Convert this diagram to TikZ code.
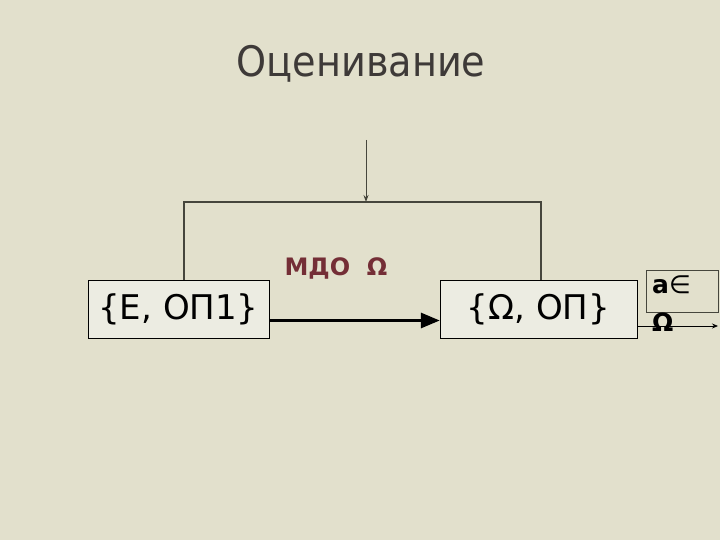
\documentclass[tikz,border=0pt]{standalone}
\usepackage{fontspec}
\setmainfont{DejaVu Sans}
\newfontfamily\titlefont[FakeStretch=0.91]{DejaVu Sans}
\usetikzlibrary{arrows,arrows.meta,positioning,shapes}

\definecolor{bgcol}{RGB}{226,224,204}
\definecolor{boxcol}{RGB}{236,236,226}
\definecolor{titlecol}{RGB}{62,58,56}
\definecolor{mdocol}{RGB}{116,46,54}
\definecolor{linecol}{RGB}{70,70,60}

\tikzset{
  setbox/.style={draw=black, fill=boxcol, inner sep=0pt, font=\fontsize{34}{40}\selectfont},
}

\begin{document}
\begin{tikzpicture}[x=1pt, y=-1pt]
  \fill[bgcol] (0,0) rectangle (720,540);
  \useasboundingbox (0,0) rectangle (720,540);
  \node[text=titlecol, font=\titlefont\fontsize{42}{48}\selectfont] (title) at (361,64) {Оценивание};
  \node[setbox, minimum width=181pt, minimum height=58pt] (E) at (178.5,309) {\{E, ОП1\}};
  \node[setbox, minimum width=197pt, minimum height=58pt] (W) at (538.5,309) {\{Ω, ОП\}};
  \node[text=mdocol, font=\bfseries\fontsize{24}{28}\selectfont] (mdo) at (336,268) {МДО~~Ω};
  \node[draw=linecol, minimum width=72pt, minimum height=42pt, inner sep=0pt] (abox) at (682,291) {};
  \node[anchor=north west, align=left, inner sep=0pt, font=\fontsize{25}{38}\selectfont] (a) at (652,276) {\textbf{a}∈\\\textbf{Ω}};
  \coordinate (in) at (366,140);
  \coordinate (top) at (366,202);
  \coordinate (out) at (718,326);
  \draw[linecol, line width=1.5pt] ([xshift=5.5pt]E.north) |- (top) -| ([xshift=2.5pt]W.north);
  \draw[-{Stealth[length=7pt,width=5pt]}, linecol, line width=1pt] (in) -- (top);
  \draw[-{Triangle[length=19pt,width=15pt]}, line width=3pt] (E.east |- 0,320.5) -- (W.west |- 0,320.5);
  \draw[-{Stealth[length=6pt,width=5pt]}, line width=0.8pt] (W.east |- out) -- (out);
\end{tikzpicture}
\end{document}
